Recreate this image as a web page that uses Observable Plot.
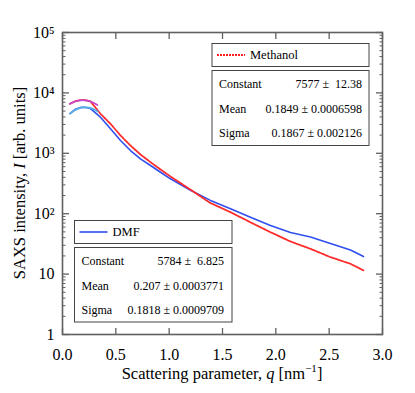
<!DOCTYPE html>
<html>
<head>
<meta charset="utf-8">
<script src="https://cdn.jsdelivr.net/npm/d3@7"></script>
<script src="https://cdn.jsdelivr.net/npm/@observablehq/plot@0.6"></script>
<style>
  html, body { margin: 0; padding: 0; background: #fff; }
  svg, svg text { font-family: "Liberation Serif", "Times New Roman", "DejaVu Serif", serif !important; }
</style>
</head>
<body>
<div id="chart"></div>
<script>
// ---- data ----
const qGrid = [0.07, 0.12, 0.17, 0.21, 0.262, 0.356, 0.45, 0.544, 0.637, 0.731, 0.825, 0.919, 1.012, 1.106, 1.2, 1.387, 1.575, 1.762, 1.95, 2.137, 2.325, 2.512, 2.7, 2.822];
const methanolI = [6600, 7300, 7600, 7600, 7250, 4510, 3076, 1972, 1346, 955, 713, 540, 413, 322, 250, 150, 106, 72, 49.4, 34.7, 26.2, 19.1, 14.8, 11.5];
const dmfI = [4550, 5350, 5750, 5800, 5500, 3960, 2550, 1630, 1110, 811, 628, 486, 378, 305, 245, 166, 120.5, 87.5, 63.8, 49, 41, 32, 25, 19.5];

const fitQ = [0.07, 0.10, 0.13, 0.16, 0.19, 0.22, 0.25, 0.28, 0.31, 0.33];
const fitMethanol = [6600, 7000, 7320, 7520, 7577, 7500, 7300, 6980, 6580, 6250];
const fitDMF = [4550, 4950, 5320, 5590, 5750, 5780, 5690, 5480, 5170, 4920];

const xTicks = [0, 0.5, 1.0, 1.5, 2.0, 2.5, 3.0];
const yMajor = [1, 10, 100, 1000, 10000, 100000];
const yMajorLabels = ["1", "10", "10\u00b2", "10\u00b3", "10\u2074", "10\u2075"];
const yMinor = [1, 10, 100, 1000, 10000].flatMap(d => [2,3,4,5,6,7,8,9].map(m => m * d));

const methanolFit = { constant: "7577 \u00b1 \u00a012.38", mean: "0.1849 \u00b1 0.0006598", sigma: "0.1867 \u00b1 0.002126" };
const dmfFit = { constant: "5784 \u00b1 \u00a06.825", mean: "0.207 \u00b1 0.0003771", sigma: "0.1818 \u00b1 0.0009709" };

const methanol = qGrid.map((q, i) => ({ q, I: methanolI[i] }));
const dmf = qGrid.map((q, i) => ({ q, I: dmfI[i] }));
const fitM = fitQ.map((q, i) => ({ q, I: fitMethanol[i] }));
const fitD = fitQ.map((q, i) => ({ q, I: fitDMF[i] }));

const FONT = "Liberation Serif";
const axisColor = "#606060";
const fmtY = d => yMajorLabels[yMajor.indexOf(d)];

const plot = Plot.plot({
  width: 415,
  height: 393,
  marginLeft: 62,
  marginRight: 33,
  marginTop: 32,
  marginBottom: 59,
  style: { fontFamily: FONT, fontSize: "16px", color: "#000", background: "#fff" },
  x: { domain: [0, 3], label: null },
  y: { type: "log", domain: [1, 1e5], label: null },
  marks: [
    // data
    Plot.line(dmf, { x: "q", y: "I", stroke: "#2f4ff0", strokeWidth: 1.6 }),
    Plot.line(methanol, { x: "q", y: "I", stroke: "#ff2a2a", strokeWidth: 1.8, strokeDasharray: "2,1" }),
    Plot.line(fitM, { x: "q", y: "I", stroke: "#c845c8", strokeWidth: 1.8, strokeDasharray: "2,1" }),
    Plot.line(fitD, { x: "q", y: "I", stroke: "#5aaee8", strokeWidth: 1.8 }),
    // inward ticks
    Plot.axisX({ ticks: xTicks, anchor: "bottom", tickSize: 6, dy: -6, tickFormat: () => "", stroke: axisColor, strokeWidth: 1.3 }),
    Plot.axisX({ ticks: xTicks, anchor: "top", tickSize: 6, dy: 6, tickFormat: () => "", stroke: axisColor, strokeWidth: 1.3 }),
    Plot.axisY({ ticks: yMajor, anchor: "left", tickSize: 7, dx: 7, tickFormat: () => "", stroke: axisColor, strokeWidth: 1.3 }),
    Plot.axisY({ ticks: yMajor, anchor: "right", tickSize: 7, dx: -7, tickFormat: () => "", stroke: axisColor, strokeWidth: 1.3 }),
    Plot.axisY({ ticks: yMinor, anchor: "left", tickSize: 3.5, dx: 3.5, tickFormat: () => "", stroke: axisColor, strokeWidth: 1 }),
    Plot.axisY({ ticks: yMinor, anchor: "right", tickSize: 3.5, dx: -3.5, tickFormat: () => "", stroke: axisColor, strokeWidth: 1 }),
    // labels
    Plot.axisX({ ticks: xTicks, anchor: "bottom", tickSize: 0, tickPadding: 14, tickFormat: d3.format(".1f"), fontSize: 16, fontFamily: FONT, label: null }),
    Plot.axisY({ ticks: yMajor, anchor: "left", tickSize: 0, tickPadding: 8, tickFormat: fmtY, fontSize: 16, fontFamily: FONT, label: null }),
    Plot.frame({ stroke: axisColor, strokeWidth: 1.6 })
  ]
});

document.getElementById("chart").appendChild(plot);

const svg = d3.select(plot);
const g = svg.append("g").attr("font-family", FONT).attr("fill", "#000").attr("text-anchor", "start");

// axis titles
const xt = g.append("text").attr("x", 222).attr("y", 379).attr("text-anchor", "middle").attr("font-size", 16.5);
xt.append("tspan").text("Scattering parameter, ");
xt.append("tspan").attr("font-style", "italic").text("q");
xt.append("tspan").text(" [nm");
xt.append("tspan").attr("font-size", 11).attr("dy", -7).text("\u22121");
xt.append("tspan").attr("dy", 7).text("]");

const yt = g.append("text").attr("transform", "translate(25,183) rotate(-90)").attr("text-anchor", "middle").attr("font-size", 16.5);
yt.append("tspan").text("SAXS intensity, ");
yt.append("tspan").attr("font-style", "italic").text("I");
yt.append("tspan").text(" [arb. units]");

function legendBox(x0, x1, yTop, yMid, yStatTop, yStatBot, name, color, dash, stats, valueRight, rows) {
  g.append("rect").attr("x", x0).attr("y", yTop).attr("width", x1 - x0).attr("height", (yMid - yTop))
    .attr("fill", "#fff").attr("stroke", "#444").attr("stroke-width", 1);
  const ly = (yTop + yMid) / 2;
  const ln = g.append("line").attr("x1", x0 + 5).attr("x2", x0 + 33).attr("y1", ly).attr("y2", ly)
    .attr("stroke", color).attr("stroke-width", dash ? 2 : 1.6);
  if (dash) ln.attr("stroke-dasharray", dash);
  g.append("text").attr("x", x0 + 38).attr("y", ly).attr("dy", "0.35em").attr("font-size", 12.5)
    .attr("text-anchor", "start").text(name);
  g.append("rect").attr("x", x0).attr("y", yStatTop).attr("width", x1 - x0).attr("height", yStatBot - yStatTop)
    .attr("fill", "#fff").attr("stroke", "#444").attr("stroke-width", 1);
  const labels = ["Constant", "Mean", "Sigma"];
  const vals = [stats.constant, stats.mean, stats.sigma];
  labels.forEach((lab, i) => {
    g.append("text").attr("x", x0 + 7).attr("y", rows[i]).attr("dy", "0.35em").attr("font-size", 12)
      .attr("text-anchor", "start").text(lab);
    g.append("text").attr("x", valueRight).attr("y", rows[i]).attr("dy", "0.35em").attr("font-size", 12)
      .attr("text-anchor", "end").style("white-space", "pre").text(vals[i]);
  });
}

legendBox(212, 369, 43.5, 66.5, 70.5, 145.5, "Methanol", "#ff2020", "2,1", methanolFit, 362, [83.5, 109, 132.5]);
legendBox(74.5, 232, 220.5, 243.5, 247.5, 322, "DMF", "#2f4ff0", null, dmfFit, 224, [261, 285.5, 309.5]);
</script>
</body>
</html>
